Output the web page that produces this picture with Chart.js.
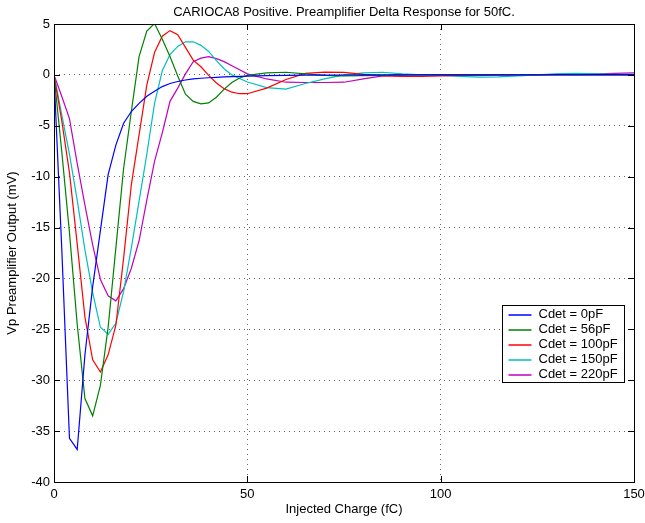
<!DOCTYPE html>
<html>
<head>
<meta charset="utf-8">
<script src="https://cdn.jsdelivr.net/npm/chart.js@4/dist/chart.umd.min.js"></script>
<style>
html,body{margin:0;padding:0;background:#fff;}
canvas{display:block;}
</style>
</head>
<body>
<canvas id="c" width="645" height="523"></canvas>
<script>
// ---- data ----
const chartTitle = "CARIOCA8 Positive. Preamplifier Delta Response for 50fC.";
const xTitle = "Injected Charge (fC)";
const yTitle = "Vp Preamplifier Output (mV)";

const charge = [0,2,4,6,8,10,12,14,16,18,20,22,24,26,28,30,32,34,36,38,40,42,44,46,48,50,
  55,60,65,70,75,80,85,90,95,100,105,110,115,120,125,130,135,140,145,150];

const cdet0 = [0,-17,-35.7,-36.8,-27.5,-20.8,-15.3,-9.8,-6.9,-4.75,-3.6,-2.8,-2.1,-1.6,-1.15,-0.85,-0.65,-0.5,-0.4,-0.33,-0.28,-0.24,-0.2,-0.17,-0.15,-0.12,
  -0.08,-0.05,-0.03,-0.02,-0.01,0,0,0,0,0,0,0,0,0,0,0.02,0.03,0.03,0.02,0.02];

const cdet56 = [0,-7.5,-15.5,-24.5,-31.8,-33.5,-30.5,-24.8,-17,-9.2,-3.6,1.8,4.3,5.05,3.5,1.8,-0.1,-1.9,-2.6,-2.85,-2.75,-2.2,-1.4,-0.75,-0.3,-0.05,
  0.2,0.26,0.1,-0.05,-0.1,-0.08,-0.05,0,0.03,0.03,0,-0.02,0,0.02,0.02,0,0,0,0,0];

const cdet100 = [0,-4.5,-9.6,-16.6,-23.8,-28,-29.2,-27.5,-24.6,-18,-10.8,-5.9,-1.0,2.2,3.8,4.35,3.95,2.7,1.45,0.8,-0.05,-0.8,-1.35,-1.7,-1.85,-1.85,
  -1.3,-0.45,0.15,0.28,0.25,0.05,-0.1,-0.15,-0.15,-0.1,-0.05,0,0.02,0.02,0.02,0,0,0,0,0];

const cdet150 = [0,-3.9,-7.8,-12.3,-17.2,-21.4,-24.8,-25.5,-24.4,-21.3,-17,-12.4,-7.8,-2.8,0.4,2.0,2.8,3.25,3.25,2.9,2.3,1.4,0.6,0.0,-0.35,-0.7,
  -1.25,-1.4,-0.85,-0.4,0.0,0.2,0.26,0.1,0,-0.05,-0.15,-0.22,-0.2,-0.1,0,0.1,0.15,0.1,0.05,0.05];

const cdet220 = [0,-2.1,-4.3,-8.7,-12.8,-16.7,-20.1,-21.7,-22.2,-21.0,-19.0,-16.3,-12.3,-8.5,-5.7,-2.6,-1.3,0.1,1.3,1.65,1.8,1.6,1.3,0.9,0.5,0.1,
  -0.4,-0.72,-0.75,-0.75,-0.72,-0.4,-0.1,0.0,0.02,0.02,0,0,0,0,0,0.05,0.1,0.1,0.15,0.2];

const seriesLabels = ["Cdet = 0pF","Cdet = 56pF","Cdet = 100pF","Cdet = 150pF","Cdet = 220pF"];
const seriesValues = [cdet0, cdet56, cdet100, cdet150, cdet220];
const seriesColors = ["#0000ff","#008000","#ff0000","#00bfbf","#bf00bf"];

const xMin = 0, xMax = 150, xStep = 50;
const yMin = -40, yMax = 5, yStep = 5;

const FONT = "'Liberation Sans', Arial, Helvetica, sans-serif";

// ---- plugins ----
const framePlugin = {
  id: 'frame',
  afterDatasetsDraw(chart) {
    const ctx = chart.ctx, a = chart.chartArea;
    const xs = chart.scales.x, ys = chart.scales.y;
    ctx.save();
    ctx.strokeStyle = '#000';
    ctx.lineWidth = 1;
    ctx.beginPath();
    const tl = 6;
    xs.ticks.forEach(t => {
      const px = Math.round(xs.getPixelForValue(t.value)) + 0.5;
      ctx.moveTo(px, a.bottom); ctx.lineTo(px, a.bottom - tl);
      ctx.moveTo(px, a.top); ctx.lineTo(px, a.top + tl);
    });
    ys.ticks.forEach(t => {
      const py = Math.round(ys.getPixelForValue(t.value)) + 0.5;
      ctx.moveTo(a.left, py); ctx.lineTo(a.left + tl, py);
      ctx.moveTo(a.right, py); ctx.lineTo(a.right - tl, py);
    });
    ctx.stroke();
    ctx.strokeRect(Math.round(a.left) + 0.5, Math.round(a.top) + 0.5,
                   Math.round(a.right - a.left), Math.round(a.bottom - a.top));
    ctx.restore();
  },
  afterDraw(chart) {
    const ctx = chart.ctx, a = chart.chartArea;
    ctx.save();
    // title
    ctx.fillStyle = '#000';
    ctx.font = '13px ' + FONT;
    ctx.textAlign = 'center';
    ctx.textBaseline = 'middle';
    ctx.fillText(chartTitle, (a.left + a.right) / 2, 12);
    // legend box
    const ds = chart.data.datasets;
    const rowH = 15;
    const boxW = 122, boxH = ds.length * rowH + 2;
    const bx = Math.round(a.right - 10 - boxW) + 0.5;
    const by = 305.5;
    ctx.fillStyle = '#fff';
    ctx.fillRect(bx, by, boxW, boxH);
    ctx.strokeStyle = '#000';
    ctx.lineWidth = 1;
    ctx.strokeRect(bx, by, boxW, boxH);
    ctx.textAlign = 'left';
    ds.forEach((d, i) => {
      const cy = by + 9 + i * rowH;
      ctx.strokeStyle = seriesColors[i];
      ctx.lineWidth = 1.5;
      ctx.beginPath();
      ctx.moveTo(bx + 6, Math.round(cy));
      ctx.lineTo(bx + 29, Math.round(cy));
      ctx.stroke();
      ctx.fillStyle = '#000';
      ctx.fillText(d.label, bx + 36, cy);
    });
    ctx.restore();
  }
};

const datasets = seriesValues.map((vals, i) => ({
  label: seriesLabels[i],
  data: charge.map((x, j) => ({x: x, y: vals[j]})),
  borderColor: seriesColors[i],
  backgroundColor: seriesColors[i],
  borderWidth: 1.2,
  pointRadius: 0,
  tension: 0,
  fill: false
}));

new Chart(document.getElementById('c'), {
  type: 'line',
  data: { datasets },
  plugins: [framePlugin],
  options: {
    responsive: false,
    animation: false,
    devicePixelRatio: 1,
    layout: { padding: { top: 24, right: 11, left: 0, bottom: 0 } },
    plugins: { legend: { display: false }, title: { display: false }, tooltip: { enabled: false } },
    scales: {
      x: {
        type: 'linear', min: xMin, max: xMax,
        ticks: { stepSize: xStep, color: '#000', padding: 5, font: { size: 13, family: FONT }, maxRotation: 0 },
        grid: { color: '#666', drawTicks: false, lineWidth: 1 },
        border: { display: false, dash: [1, 4] },
        title: { display: true, text: xTitle, color: '#000', font: { size: 13, family: FONT }, padding: { top: 0, bottom: 6 } },
        afterFit(s) { s.height = 41; s.paddingLeft = 0; s.paddingRight = 0; }
      },
      y: {
        type: 'linear', min: yMin, max: yMax,
        ticks: { stepSize: yStep, color: '#000', padding: 4, font: { size: 13, family: FONT } },
        grid: { color: '#666', drawTicks: false, lineWidth: 1 },
        border: { display: false, dash: [1, 4] },
        title: { display: true, text: yTitle, color: '#000', font: { size: 13, family: FONT }, padding: { top: 5, bottom: 0 } },
        afterFit(s) { s.width = 54; s.paddingTop = 0; s.paddingBottom = 0; }
      }
    }
  }
});
</script>
</body>
</html>
